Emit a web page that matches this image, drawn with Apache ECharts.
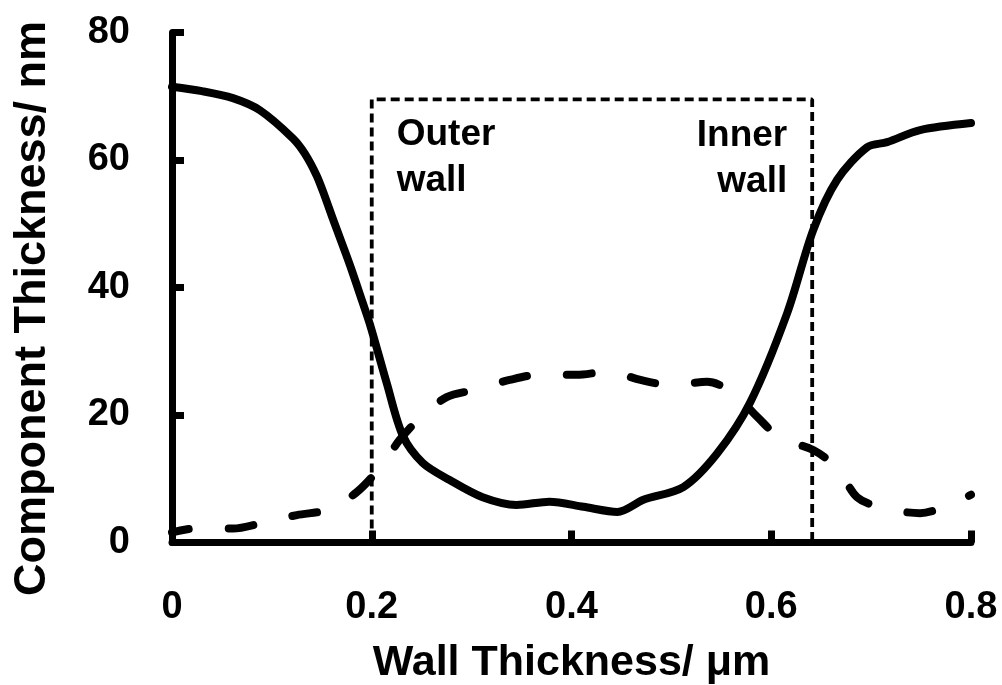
<!DOCTYPE html>
<html>
<head>
<meta charset="utf-8">
<script src="https://cdn.jsdelivr.net/npm/echarts@6/dist/echarts.min.js"></script>
<style>
  html, body { margin: 0; padding: 0; background: #fff; }
  #main { width: 1002px; height: 685px; }
</style>
</head>
<body>
<div id="main"></div>
<script>
// solid curve (component 1)
var solidX = [0, 0.03, 0.061, 0.088, 0.121, 0.133, 0.145, 0.153, 0.161, 0.178, 0.191, 0.199, 0.215, 0.231, 0.251, 0.278, 0.311, 0.345, 0.378, 0.412, 0.446, 0.472, 0.512, 0.546, 0.579, 0.616, 0.642, 0.666, 0.696, 0.716, 0.749, 0.8];
var solidY = [71.5, 70.8, 69.7, 67.8, 63.4, 61.0, 57.5, 54.3, 50.8, 43.6, 37.6, 33.8, 25.0, 16.8, 12.5, 9.8, 7.1, 5.9, 6.4, 5.6, 4.8, 6.7, 8.7, 14.0, 22.0, 36.0, 49.0, 56.9, 62.0, 62.8, 64.7, 65.8];
// dashed curve (component 2)
var dashX = [0, 0.028, 0.061, 0.091, 0.125, 0.158, 0.185, 0.208, 0.228, 0.248, 0.275, 0.305, 0.338, 0.371, 0.405, 0.437, 0.469, 0.499, 0.536, 0.562, 0.586, 0.609, 0.642, 0.666, 0.686, 0.712, 0.749, 0.779, 0.8];
var dashY = [1.6, 2.3, 2.2, 3.1, 4.3, 5.2, 7.9, 11.7, 16.1, 19.5, 22.8, 24.0, 25.5, 26.4, 26.3, 26.8, 25.5, 24.7, 25.2, 23.5, 19.7, 16.4, 14.5, 11.7, 7.1, 5.4, 4.6, 5.9, 7.5];
// dashed box marking the wall
var boxX = [0.2, 0.2, 0.641, 0.641];
var boxY = [0, 69.5, 69.5, 0];
// annotations (top-left / top-right corner of each text block)
var noteX = [0.225, 0.616];
var noteY = [67.6, 67.4];
var noteText = ['Outer\nwall', 'Inner\nwall'];
var noteAlign = ['left', 'right'];

var FONT = 'Arial, "Liberation Sans", sans-serif';

function zip(xs, ys) {
  return xs.map(function (x, i) { return [x, ys[i]]; });
}

var chart = echarts.init(document.getElementById('main'), null, { renderer: 'canvas' });

var option = {
  backgroundColor: '#fff',
  animation: false,
  grid: { left: 172, right: 31, top: 32.5, bottom: 142.5, outerBoundsMode: 'none', containLabel: false },
  xAxis: {
    type: 'value',
    min: 0, max: 0.8, interval: 0.2,
    name: 'Wall Thickness/ \u03bcm',
    nameLocation: 'middle',
    nameGap: 99,
    nameTextStyle: { fontFamily: FONT, fontWeight: 'bold', fontSize: 43, color: '#000' },
    axisLine: { lineStyle: { color: '#000', width: 7 } },
    axisTick: { inside: true, length: 12, lineStyle: { color: '#000', width: 7 } },
    axisLabel: { margin: 46, fontFamily: FONT, fontWeight: 'bold', fontSize: 38, color: '#000' },
    splitLine: { show: false }
  },
  yAxis: {
    type: 'value',
    min: 0, max: 80, interval: 20,
    name: 'Component Thickness/ nm',
    nameLocation: 'middle',
    nameGap: 117,
    nameTextStyle: { fontFamily: FONT, fontWeight: 'bold', fontSize: 45, color: '#000', padding: [0, 42, 0, 0] },
    axisLine: { lineStyle: { color: '#000', width: 7 } },
    axisTick: { inside: true, length: 12, lineStyle: { color: '#000', width: 7 } },
    axisLabel: { margin: 42, fontFamily: FONT, fontWeight: 'bold', fontSize: 38, color: '#000' },
    splitLine: { show: false }
  },
  series: [
    {
      type: 'line',
      data: zip(boxX, boxY),
      showSymbol: false,
      lineStyle: { color: '#000', width: 3.8, type: [9, 5] },
      z: 2
    },
    {
      type: 'line',
      data: zip(dashX, dashY),
      smooth: 0.3,
      showSymbol: false,
      lineStyle: { color: '#000', width: 8, type: [25, 40], cap: 'round', dashOffset: 8 },
      z: 3
    },
    {
      type: 'line',
      data: zip(solidX, solidY),
      smooth: 0.3,
      showSymbol: false,
      lineStyle: { color: '#000', width: 8, cap: 'round' },
      z: 4
    }
  ]
};

chart.setOption(option);

// place the two notes at their data positions
chart.setOption({
  graphic: noteX.map(function (x, i) {
    var p = chart.convertToPixel({ gridIndex: 0 }, [x, noteY[i]]);
    return {
      type: 'text',
      x: p[0], y: p[1],
      z: 10,
      style: {
        text: noteText[i],
        fill: '#000',
        font: 'bold 37px ' + FONT,
        lineHeight: 46,
        align: noteAlign[i],
        verticalAlign: 'top'
      }
    };
  })
});
</script>
</body>
</html>
